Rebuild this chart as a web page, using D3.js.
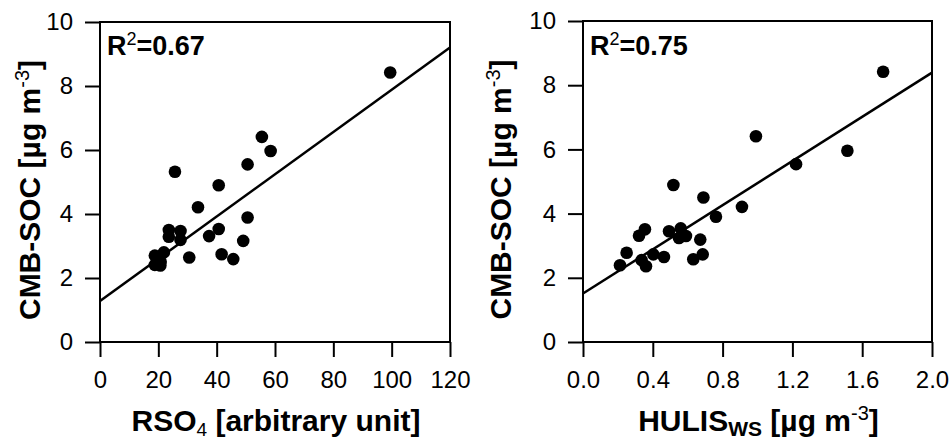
<!DOCTYPE html>
<html>
<head>
<meta charset="utf-8">
<script src="https://cdn.jsdelivr.net/npm/d3@7/dist/d3.min.js"></script>
<style>
  html, body { margin: 0; padding: 0; background: #fff; }
  svg { display: block; }
  text { font-family: Arial, "Liberation Sans", Helvetica, sans-serif; fill: #000; }
</style>
</head>
<body>
<svg id="chart" width="952" height="441"></svg>
<script>
// ---- Data ----
const rso4 = [99.5, 55.5, 58.5, 50.6, 25.7, 40.7, 33.6, 50.6, 40.7, 23.6, 27.6, 23.6, 37.4, 27.6, 49.1, 30.6, 41.7, 45.7, 18.8, 21.9, 20.8, 18.8, 20.7];
const socLeft = [8.42, 6.41, 5.97, 5.55, 5.32, 4.90, 4.21, 3.89, 3.53, 3.50, 3.47, 3.29, 3.31, 3.19, 3.16, 2.64, 2.74, 2.59, 2.70, 2.80, 2.51, 2.41, 2.39];

const hulis = [1.72, 0.991, 1.515, 1.221, 0.518, 0.690, 0.911, 0.762, 0.355, 0.321, 0.493, 0.560, 0.550, 0.590, 0.672, 0.250, 0.403, 0.464, 0.686, 0.632, 0.212, 0.336, 0.361];
const socRight = [8.42, 6.41, 5.96, 5.54, 4.89, 4.50, 4.21, 3.90, 3.51, 3.31, 3.45, 3.54, 3.24, 3.30, 3.19, 2.78, 2.73, 2.65, 2.73, 2.58, 2.39, 2.55, 2.36];

// regression lines (intercept, slope) and R^2 labels
const fitLeft = [1.28, 0.066];
const fitRight = [1.51, 3.44];
const r2Left = "0.67";
const r2Right = "0.75";

const yTicks = [0, 2, 4, 6, 8, 10];
const xTicksLeft = [0, 20, 40, 60, 80, 100, 120];
const xTicksRight = [0.0, 0.4, 0.8, 1.2, 1.6, 2.0];

const svg = d3.select("#chart");

function panel(opts) {
  const x = d3.scaleLinear().domain(opts.xDomain).range([opts.left, opts.right]);
  const y = d3.scaleLinear().domain([0, 10]).range([opts.bottom, opts.top]);
  const g = svg.append("g");

  // frame
  g.append("rect")
    .attr("x", opts.left).attr("y", opts.top)
    .attr("width", opts.right - opts.left).attr("height", opts.bottom - opts.top)
    .attr("fill", "none").attr("stroke", "#000").attr("stroke-width", 2);

  // y axis
  const ya = g.append("g").attr("transform", `translate(${opts.left},0)`)
    .call(d3.axisLeft(y).tickValues(yTicks).tickSize(15).tickSizeOuter(0).tickPadding(12).tickFormat(d3.format("d")));
  ya.select(".domain").remove();
  ya.selectAll(".tick line").attr("stroke", "#000").attr("stroke-width", 2);
  ya.selectAll(".tick text").attr("font-size", 24).attr("fill", "#000")
    .style("font-family", "Arial, 'Liberation Sans', sans-serif");

  // x axis
  const xa = g.append("g").attr("transform", `translate(0,${opts.bottom})`)
    .call(d3.axisBottom(x).tickValues(opts.xTicks).tickSize(15).tickSizeOuter(0).tickPadding(14).tickFormat(opts.xFormat));
  xa.select(".domain").remove();
  xa.selectAll(".tick line").attr("stroke", "#000").attr("stroke-width", 2);
  xa.selectAll(".tick text").attr("font-size", 24).attr("fill", "#000")
    .style("font-family", "Arial, 'Liberation Sans', sans-serif");

  // regression line
  const [b0, b1] = opts.fit;
  const xd = opts.xDomain;
  g.append("line")
    .attr("x1", x(xd[0])).attr("y1", y(b0 + b1 * xd[0]))
    .attr("x2", x(xd[1])).attr("y2", y(b0 + b1 * xd[1]))
    .attr("stroke", "#000").attr("stroke-width", 2.5);

  // points
  g.selectAll("circle.pt").data(opts.xs.map((v, i) => [v, opts.ys[i]]))
    .enter().append("circle").attr("class", "pt")
    .attr("cx", d => x(d[0])).attr("cy", d => y(d[1])).attr("r", 6.3)
    .attr("fill", "#000");

  // R^2 label
  const r = g.append("text").attr("x", opts.left + 7).attr("y", 55)
    .attr("font-size", 27).attr("font-weight", "bold");
  r.append("tspan").text("R");
  r.append("tspan").attr("font-size", 18).attr("font-weight", "normal").attr("dy", -10).text("2");
  r.append("tspan").attr("dy", 10).text("=" + opts.r2);

  // y label
  const yl = g.append("text")
    .attr("transform", `translate(${opts.yLabelX},${(opts.top + opts.bottom) / 2 + 8}) rotate(-90)`)
    .attr("text-anchor", "middle").attr("font-size", 30).attr("font-weight", "bold");
  yl.append("tspan").text("CMB-SOC [µg m");
  yl.append("tspan").attr("font-size", 20).attr("font-weight", "normal").attr("dy", -11).text("-3");
  yl.append("tspan").attr("dy", 11).text("]");

  // x label
  const xl = g.append("text")
    .attr("x", (opts.left + opts.right) / 2 + 1).attr("y", 431)
    .attr("text-anchor", "middle").attr("font-size", 30).attr("font-weight", "bold");
  opts.xLabel(xl);
}

panel({
  left: 100, right: 450, top: 22, bottom: 342,
  xDomain: [0, 120], xTicks: xTicksLeft, xFormat: d3.format("d"),
  xs: rso4, ys: socLeft, fit: fitLeft, r2: r2Left, yLabelX: 40,
  xLabel: t => {
    t.append("tspan").text("RSO");
    t.append("tspan").attr("font-size", 19).attr("font-weight", "normal").attr("dy", 5).text("4");
    t.append("tspan").attr("dy", -5).text(" [arbitrary unit]");
  }
});

panel({
  left: 583, right: 932, top: 21, bottom: 342,
  xDomain: [0, 2], xTicks: xTicksRight, xFormat: d3.format(".1f"),
  xs: hulis, ys: socRight, fit: fitRight, r2: r2Right, yLabelX: 511,
  xLabel: t => {
    t.append("tspan").text("HULIS");
    t.append("tspan").attr("font-size", 21).attr("dy", 5).text("WS");
    t.append("tspan").attr("dy", -5).text(" [µg m");
    t.append("tspan").attr("font-size", 20).attr("font-weight", "normal").attr("dy", -11).text("-3");
    t.append("tspan").attr("dy", 11).text("]");
  }
});
</script>
</body>
</html>
